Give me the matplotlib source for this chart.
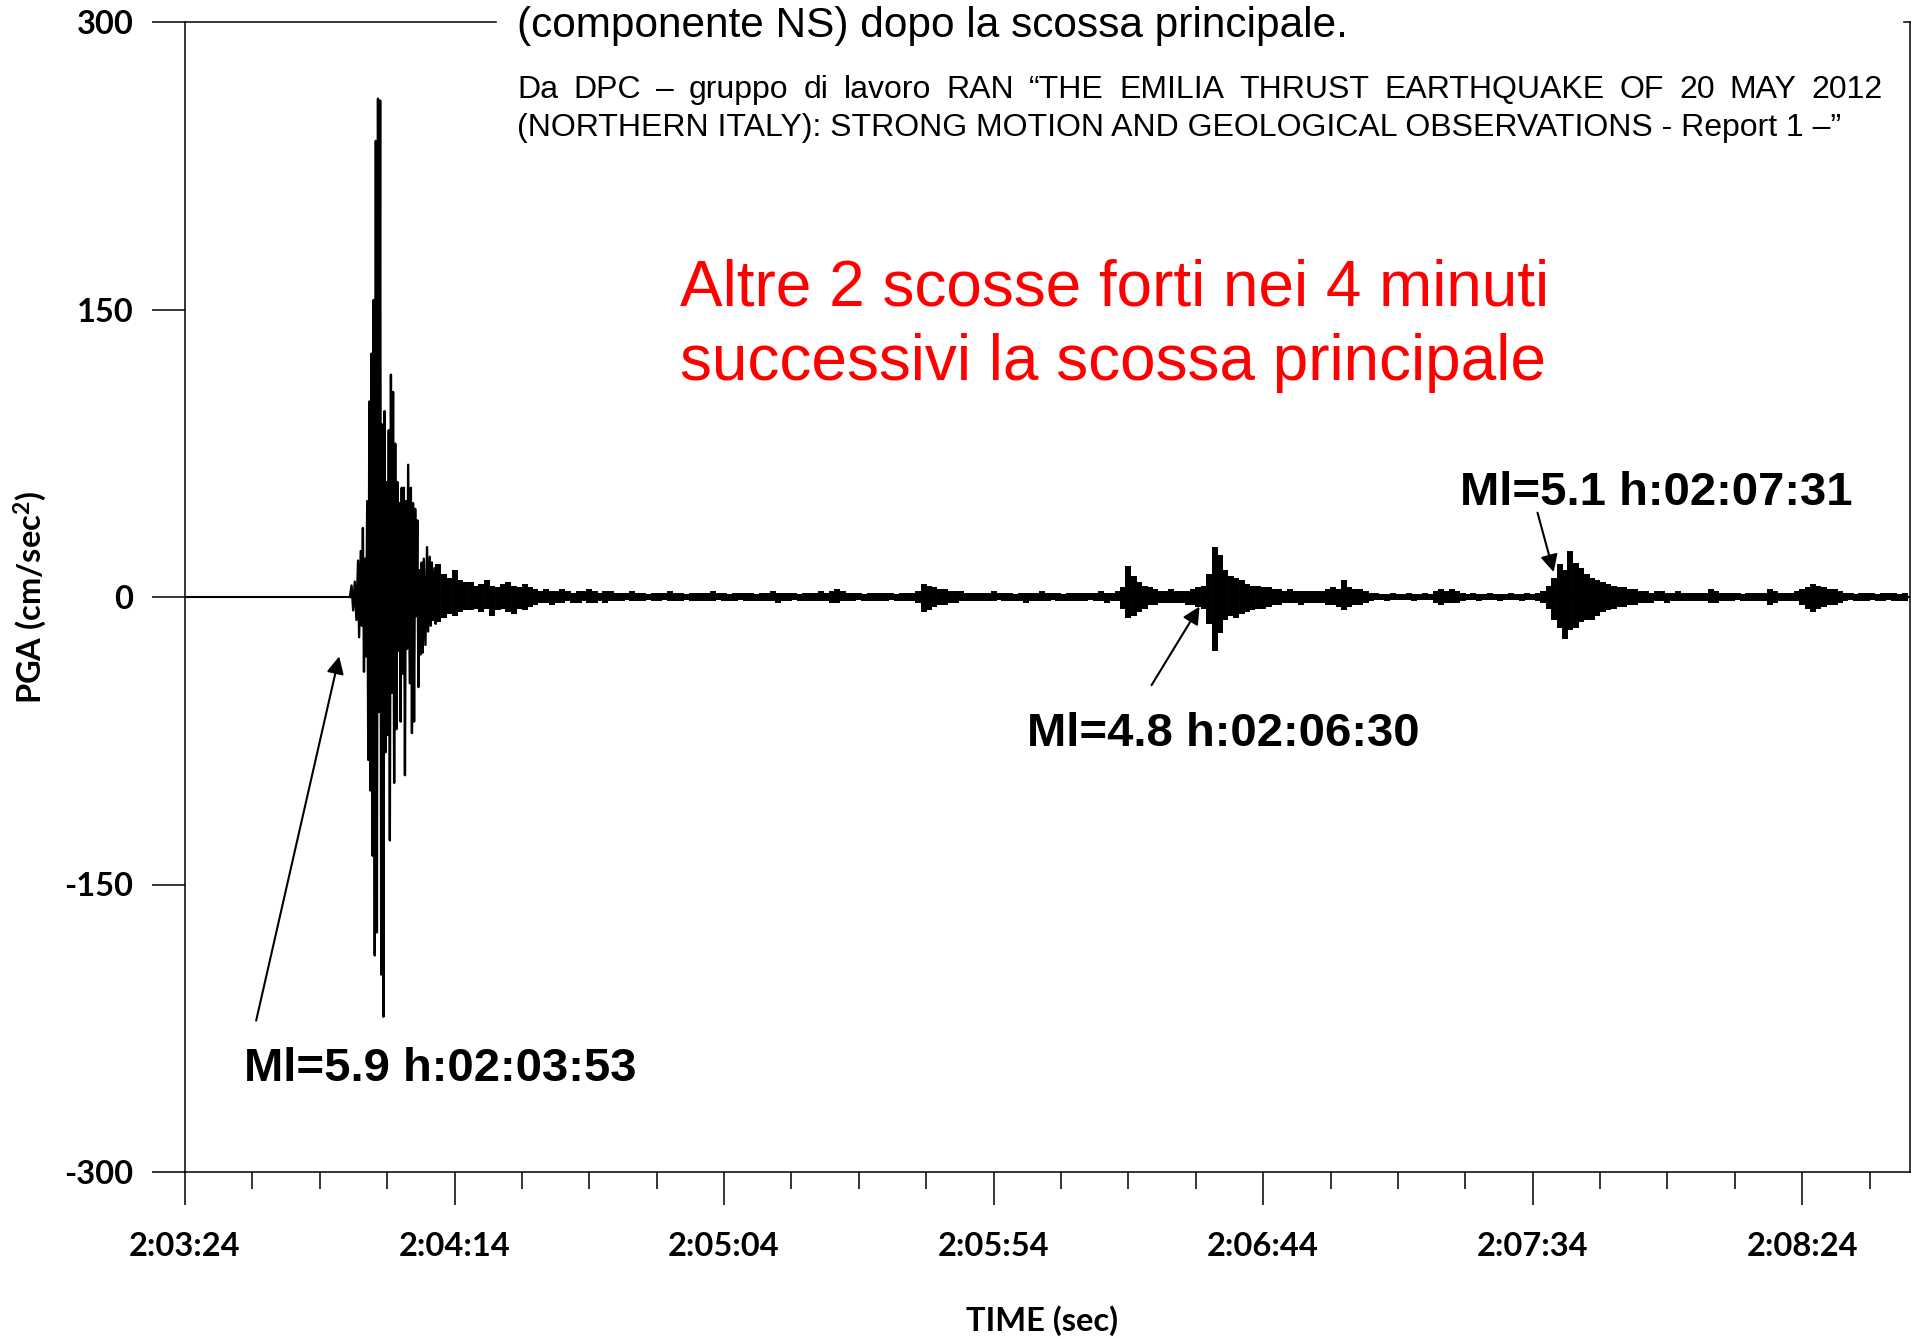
import numpy as np
import matplotlib
matplotlib.use('Agg')
import matplotlib.pyplot as plt
from matplotlib.patches import Rectangle
from matplotlib.ticker import FuncFormatter, MultipleLocator

plt.rcParams['axes.unicode_minus'] = False
plt.rcParams['mathtext.fontset'] = 'custom'
plt.rcParams['mathtext.rm'] = 'Lato:bold'
plt.rcParams['mathtext.it'] = 'Lato:bold'
plt.rcParams['mathtext.bf'] = 'Lato:bold'

W, H = 1911, 1339

# record starts at 2:03:24
t0_clock = 2 * 3600 + 3 * 60 + 24

# main shock: successive peaks of the trace (s, cm/sec2)
main_t = [30.6, 30.9, 31.2, 31.5, 31.8, 32.1, 32.3, 32.6, 32.8, 33.0,
          33.2, 33.4, 33.6, 33.8, 34.0, 34.2, 34.4, 34.6, 34.8, 35.0,
          35.2, 35.4, 35.6, 35.8, 36.0, 36.2, 36.4, 36.6, 36.8, 37.0,
          37.2, 37.4, 37.6, 37.8, 38.0, 38.2, 38.4, 38.6, 38.8, 39.0,
          39.2, 39.4, 39.6, 39.8, 40.0, 40.2, 40.4, 40.6, 40.8, 41.0,
          41.2, 41.4, 41.7, 41.9, 42.1, 42.3, 42.5, 42.7, 42.9, 43.1,
          43.3, 43.5, 43.7, 43.9, 44.1, 44.3, 44.6, 44.9, 45.1, 45.4,
          45.6, 45.8, 46.0, 46.3, 46.5, 46.7]
main_a = [0, 6, -7, 8, -12, 19, -21, 24, -15, 36,
          -39, 20, -31, 50, -85, 102, -101, 127, -135, 155,
          -187, 238, -175, 260, -60, 259, -197, 90, -219, 97,
          -81, 60, -72, 87, -127, 116, -50, 107, -97, 80,
          -69, 60, -28, 49, -65, 57, -40, 57, -93, 50,
          -27, 69, -45, 57, -71, 49, -65, 46, -10, 40,
          -47, 14, -30, 18, -29, 20, -25, 26, -18, 21,
          -15, 18, -12, 15, -14, 12]

# rest of the record: upper / lower peak in each second from 47 s on
coda_start = 47
coda_pos = [17, 12, 10, 14, 9, 8,
            8, 6, 7, 9, 6, 5, 7, 8, 6, 5, 7, 5, 4,
            3, 4, 3, 3, 4, 3, 2, 3, 3, 4, 3, 2, 3, 3, 2,
            2, 2, 3, 2, 2, 1.5, 2, 2, 2, 3, 2, 2, 1.5, 2, 2, 2, 2, 3, 2, 2,
            1.5, 2, 2, 2, 2, 1.5, 2, 2, 3, 2, 2, 2, 2, 1.5, 2, 2, 2, 3, 2,
            3, 4, 3,
            2, 2, 2, 1.5, 2, 2, 2, 2, 2, 1.5, 2, 2, 2, 3,
            7, 6, 5, 4, 4, 3, 3, 3, 2, 2,
            2, 2, 2, 3, 2, 2, 2, 1.5, 2, 2, 2, 2, 3, 2, 2, 2, 1.5, 2, 2, 2,
            2, 2, 2, 3, 2, 2, 3,
            5, 16, 11, 8, 6, 5, 4, 3, 3, 4, 3, 3, 3, 4, 5,
            6, 12, 26, 22, 14, 11, 10, 9, 7, 6, 6, 5,
            5, 4, 4, 3, 4, 3, 3, 3, 3, 3, 3,
            4, 5, 4, 9, 5, 4, 4, 3, 2,
            2, 1.5, 1.5, 2, 1.5, 1.5, 2, 1.5, 1.5, 2, 1.5,
            3, 4, 3, 4, 3, 2,
            1.5, 2, 1.5, 1.5, 2, 1.5, 1.5, 1.5, 2, 1.5, 1.5, 2, 1.5, 2, 3,
            6, 10, 17, 14, 24, 18, 15, 12, 10, 9, 8, 7, 6, 5, 5, 4, 4,
            3, 3, 2, 3, 3, 2, 2, 3, 2, 2, 2, 2, 2, 4, 3, 2, 2, 2, 2, 1.5,
            2, 2, 2, 2, 4, 3, 2, 2, 2, 3,
            4, 5, 7, 6, 5, 4, 4, 3,
            2, 2, 1.5, 2, 2, 2, 1.5, 2, 2, 2, 1.5, 2]
coda_neg = [-13, -11, -9, -10, -8, -7,
            -7, -6, -8, -6, -10, -7, -6, -8, -9, -6, -7, -5, -4,
            -3, -3, -4, -3, -3, -2, -3, -3, -2, -3, -3, -2, -3, -2, -2,
            -2, -1.5, -2, -2, -2, -1.5, -2, -2, -1.5, -2, -2, -2, -1.5, -2, -2, -2, -2, -2, -1.5, -2,
            -2, -2, -1.5, -2, -2, -2, -2, -2, -2, -3, -2, -2, -1.5, -2, -2, -2, -2, -2, -2,
            -3, -3, -2,
            -2, -2, -1.5, -2, -2, -2, -2, -2, -1.5, -2, -2, -2, -2, -3,
            -8, -7, -5, -4, -4, -3, -3, -2, -2, -2,
            -2, -2, -2, -2, -1.5, -2, -2, -2, -2, -3, -2, -2, -2, -2, -1.5, -2, -2, -2, -2, -2,
            -2, -1.5, -2, -2, -3, -2, -2,
            -6, -11, -10, -8, -6, -4, -4, -3, -3, -3, -3, -3, -4, -4, -5,
            -6, -14, -28, -19, -12, -10, -11, -9, -8, -7, -6, -6,
            -5, -4, -4, -3, -3, -3, -4, -3, -3, -3, -3,
            -4, -4, -5, -7, -5, -4, -4, -3, -2,
            -1.5, -1.5, -2, -1.5, -1.5, -1.5, -1.5, -2, -1.5, -1.5, -1.5,
            -3, -4, -3, -3, -3, -2,
            -1.5, -1.5, -2, -1.5, -1.5, -1.5, -2, -1.5, -1.5, -1.5, -2, -1.5, -1.5, -2, -3,
            -6, -12, -16, -22, -17, -16, -13, -12, -12, -10, -8, -7, -6, -5, -5, -4, -4,
            -3, -3, -3, -2, -2, -3, -2, -2, -2, -2, -2, -2, -2, -3, -3, -2, -2, -2, -1.5, -2,
            -2, -2, -2, -2, -4, -3, -2, -2, -2, -2,
            -4, -6, -8, -6, -5, -4, -4, -3,
            -2, -1.5, -2, -2, -2, -1.5, -2, -2, -1.5, -2, -2, -2]
coda_t = coda_start + np.arange(len(coda_pos))

event_labels = ["Ml=5.9 h:02:03:53", "Ml=4.8 h:02:06:30", "Ml=5.1 h:02:07:31"]

top_line = "(componente NS) dopo la scossa principale."
cite_line1 = "Da DPC \u2013 gruppo di lavoro RAN \u201cTHE EMILIA THRUST EARTHQUAKE OF 20 MAY 2012"
cite_line2 = "(NORTHERN ITALY): STRONG MOTION AND GEOLOGICAL OBSERVATIONS - Report 1 \u2013\u201d"
red_lines = ["Altre 2 scosse forti nei 4 minuti",
             "successivi la scossa principale"]


def fx(px):
    return px / W


def fy(py):
    return 1 - py / H


def clock(x, pos):
    s = int(round(t0_clock + x))
    return f"{s // 3600}:{(s % 3600) // 60:02d}:{s % 60:02d}"


fig = plt.figure(figsize=(W / 100, H / 100), dpi=100)
ax = fig.add_axes([fx(185), fy(1172), fx(1910) - fx(185), fy(22) - fy(1172)])

# trace
ax.axhline(0, color='black', lw=1.5, zorder=2)
ax.plot(main_t, main_a, color='black', lw=1.7, zorder=3)
ax.vlines(coda_t, coda_neg, coda_pos, color='black', lw=4.3, zorder=3)

ax.set_xlim(0, 320)
ax.set_ylim(-300, 300)
ax.xaxis.set_major_locator(MultipleLocator(50))
ax.xaxis.set_minor_locator(MultipleLocator(12.5))
ax.xaxis.set_major_formatter(FuncFormatter(clock))
ax.set_yticks([-300, -150, 0, 150, 300])

tick_font = dict(family='Lato', weight='bold', size=23.5)
for lab in ax.get_xticklabels() + ax.get_yticklabels():
    lab.set_fontproperties(matplotlib.font_manager.FontProperties(**tick_font))
ax.tick_params(axis='x', which='major', direction='out', length=24, width=1.1, pad=19)
ax.tick_params(axis='x', which='minor', direction='out', length=12, width=1.1)
ax.tick_params(axis='y', which='major', direction='out', length=24, width=1.1, pad=13)
for sp in ax.spines.values():
    sp.set_linewidth(1.1)

fig.text(fx(30), fy(597), "PGA (cm/sec$^{2}$)", rotation=90, ha='center', va='center',
         **tick_font)
fig.text(fx(1042), fy(1321), "TIME (sec)", ha='center', va='center', **tick_font)

# event labels and arrows
lab_font = dict(family='Liberation Sans', weight='bold', size=34)
fig.text(fx(244), fy(1081), event_labels[0], ha='left', va='baseline', **lab_font)
fig.text(fx(1027), fy(746), event_labels[1], ha='left', va='baseline', **lab_font)
fig.text(fx(1460), fy(505), event_labels[2], ha='left', va='baseline', **lab_font)

arrow = dict(arrowstyle='-|>', color='black', lw=1.5, mutation_scale=26,
             shrinkA=0, shrinkB=0)
ax.annotate('', xy=(28.6, -31), xytext=(13.2, -221), arrowprops=arrow)
ax.annotate('', xy=(188.2, -5), xytext=(179.3, -46), arrowprops=arrow)
ax.annotate('', xy=(253.9, 13), xytext=(250.9, 44), arrowprops=arrow)

# red note
red_font = dict(family='Liberation Sans', size=46, color='#ff0000')
fig.text(fx(680), fy(305), red_lines[0], ha='left', va='baseline', **red_font)
fig.text(fx(680), fy(380), red_lines[1], ha='left', va='baseline', **red_font)

# caption block at the top, on a white box
fig.patches.append(Rectangle((fx(497), fy(150)), fx(1902) - fx(497), 150 / H,
                             transform=fig.transFigure, color='white', zorder=1))
fig.text(fx(517), fy(37), top_line, ha='left', va='baseline',
         family='Liberation Sans', size=30.5)

cite_font = dict(family='Liberation Sans', size=23)
fig.canvas.draw()
renderer = fig.canvas.get_renderer()
words = cite_line1.split(' ')
word_texts = [fig.text(0, fy(98), w, ha='left', va='baseline', **cite_font) for w in words]
widths = [t.get_window_extent(renderer).width for t in word_texts]
gap = (1883 - 517 - sum(widths)) / (len(words) - 1)
x = 517
for t, w in zip(word_texts, widths):
    t.set_x(fx(x))
    x += w + gap
fig.text(fx(517), fy(136), cite_line2, ha='left', va='baseline', **cite_font)

fig.savefig('out.png', dpi=100)
